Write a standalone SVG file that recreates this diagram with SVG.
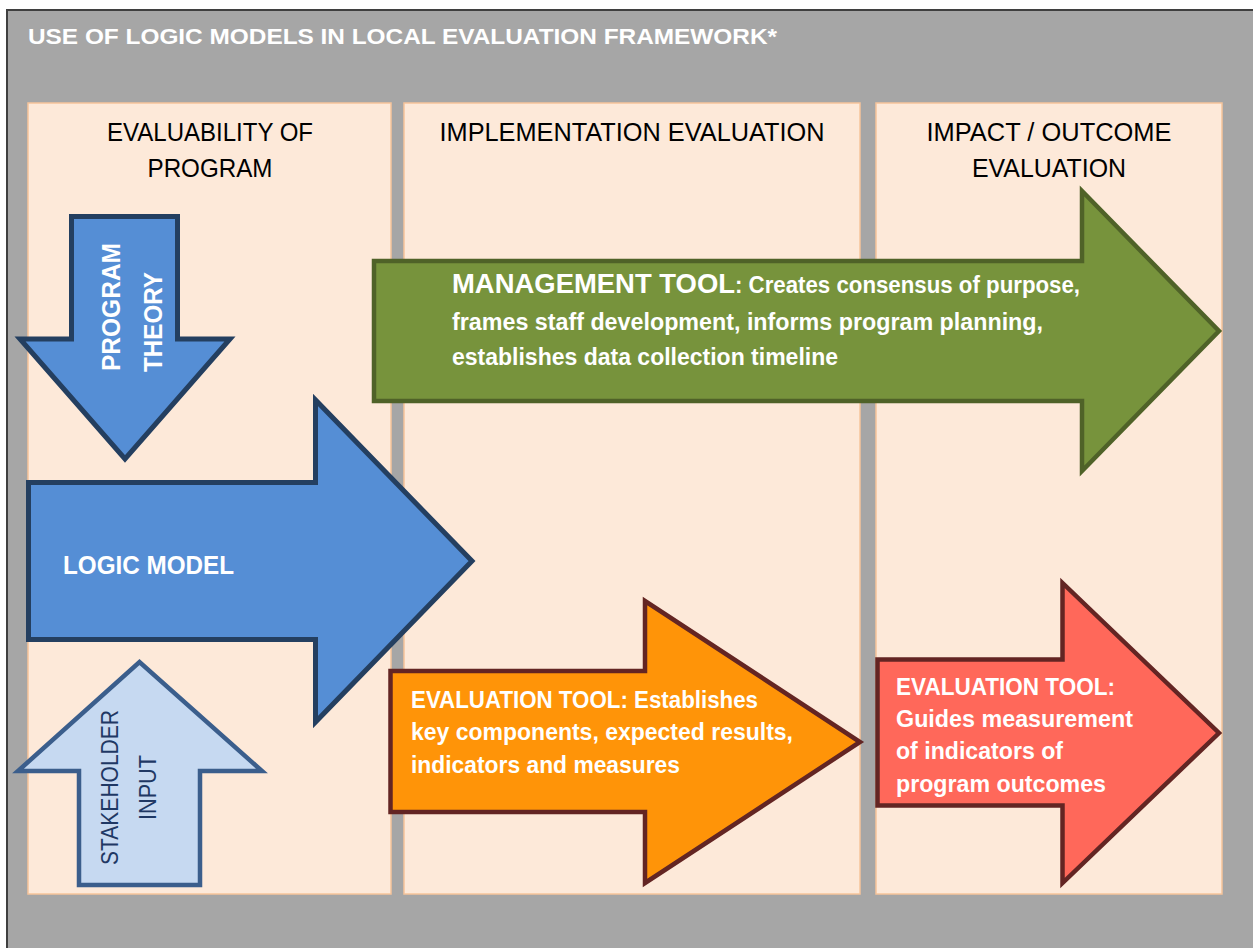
<svg xmlns="http://www.w3.org/2000/svg" width="1253" height="948" viewBox="0 0 1253 948">
  <style>
    .col { fill: #FDE9D9; stroke: #F6C49A; stroke-width: 1.5; }
    .head { font-family: "Liberation Sans", Arial, sans-serif; font-size: 25px; fill: #000000; text-anchor: middle; }
    .wb { font-family: "Liberation Sans", Arial, sans-serif; font-weight: bold; fill: #FFFFFF; }
    .blue { fill: #558ED5; stroke: #243F60; stroke-width: 5; stroke-linejoin: miter; }
    .pale { fill: #C6D9F1; stroke: #3B5E8C; stroke-width: 4.5; }
    .green { fill: #77933C; stroke: #4F6228; stroke-width: 4.5; }
    .orange { fill: #FF9408; stroke: #632523; stroke-width: 4.5; }
    .red { fill: #FF685A; stroke: #632523; stroke-width: 4.5; }
    .navy { font-family: "Liberation Sans", Arial, sans-serif; font-size: 23px; fill: #1F3864; text-anchor: middle; }
  </style>

  <!-- frame -->
  <rect x="7" y="10" width="1250" height="945" fill="#A6A6A6" stroke="#3F3F3F" stroke-width="2"/>
  <text class="wb" x="28" y="44" font-size="22" textLength="749" lengthAdjust="spacingAndGlyphs">USE OF LOGIC MODELS IN LOCAL EVALUATION FRAMEWORK*</text>

  <!-- phase columns -->
  <g id="col-evaluability">
    <rect class="col" x="28" y="103" width="363" height="791"/>
    <text class="head" x="210" y="141" textLength="206" lengthAdjust="spacingAndGlyphs">EVALUABILITY OF</text>
    <text class="head" x="210" y="177" textLength="125" lengthAdjust="spacingAndGlyphs">PROGRAM</text>
  </g>
  <g id="col-implementation">
    <rect class="col" x="404" y="103" width="456" height="791"/>
    <text class="head" x="632" y="141" textLength="385" lengthAdjust="spacingAndGlyphs">IMPLEMENTATION EVALUATION</text>
  </g>
  <g id="col-impact">
    <rect class="col" x="876" y="103" width="346" height="791"/>
    <text class="head" x="1049" y="141" textLength="245" lengthAdjust="spacingAndGlyphs">IMPACT / OUTCOME</text>
    <text class="head" x="1049" y="177" textLength="154" lengthAdjust="spacingAndGlyphs">EVALUATION</text>
  </g>

  <!-- program theory (down arrow) -->
  <g id="program-theory">
    <path class="blue" d="M71.5,216.5 H177.5 V339 H230 L125,459 L20,339 H71.5 Z"/>
    <text class="wb" font-size="26" transform="translate(120,371) rotate(-90)" textLength="128" lengthAdjust="spacingAndGlyphs">PROGRAM</text>
    <text class="wb" font-size="26" transform="translate(162,372) rotate(-90)" textLength="100" lengthAdjust="spacingAndGlyphs">THEORY</text>
  </g>

  <!-- logic model (right arrow) -->
  <g id="logic-model">
    <path class="blue" d="M28.5,482.5 H315.5 V400 L472,561 L315.5,722 V639.5 H28.5 Z"/>
    <text class="wb" font-size="26" x="63" y="574" textLength="171" lengthAdjust="spacingAndGlyphs">LOGIC MODEL</text>
  </g>

  <!-- stakeholder input (up arrow) -->
  <g id="stakeholder-input">
    <path class="pale" d="M79,885 V771 H18 L139.5,662 L262,771 H200 V885 Z"/>
    <text class="navy" transform="translate(118,787.5) rotate(-90)" textLength="155" lengthAdjust="spacingAndGlyphs">STAKEHOLDER</text>
    <text class="navy" transform="translate(156,787.5) rotate(-90)" textLength="65" lengthAdjust="spacingAndGlyphs">INPUT</text>
  </g>

  <!-- management tool (green arrow) -->
  <g id="management-tool">
    <path class="green" d="M374,261 H1082 V191 L1219,331 L1082,471 V401 H374 Z"/>
    <text class="wb" font-size="27" x="452" y="293" textLength="283" lengthAdjust="spacingAndGlyphs">MANAGEMENT TOOL</text>
    <text class="wb" font-size="23" x="735" y="293" textLength="345" lengthAdjust="spacingAndGlyphs">: Creates consensus of purpose,</text>
    <text class="wb" font-size="23" x="452" y="330" textLength="591" lengthAdjust="spacingAndGlyphs">frames staff development, informs program planning,</text>
    <text class="wb" font-size="23" x="452" y="365" textLength="386" lengthAdjust="spacingAndGlyphs">establishes data collection timeline</text>
  </g>

  <!-- evaluation tool, implementation (orange arrow) -->
  <g id="evaluation-tool-implementation">
    <path class="orange" d="M390.5,671 H645 V601 L860,742 L645,883 V812 H390.5 Z"/>
    <text class="wb" font-size="23" x="411" y="708" textLength="347" lengthAdjust="spacingAndGlyphs">EVALUATION TOOL: Establishes</text>
    <text class="wb" font-size="23" x="411" y="740" textLength="382" lengthAdjust="spacingAndGlyphs">key components, expected results,</text>
    <text class="wb" font-size="23" x="411" y="773" textLength="269" lengthAdjust="spacingAndGlyphs">indicators and measures</text>
  </g>

  <!-- evaluation tool, outcomes (red arrow) -->
  <g id="evaluation-tool-outcomes">
    <path class="red" d="M877.5,659.5 H1062.5 V583 L1219,733 L1062.5,883 V805.5 H877.5 Z"/>
    <text class="wb" font-size="23" x="896" y="695" textLength="219" lengthAdjust="spacingAndGlyphs">EVALUATION TOOL:</text>
    <text class="wb" font-size="23" x="896" y="727" textLength="237" lengthAdjust="spacingAndGlyphs">Guides measurement</text>
    <text class="wb" font-size="23" x="896" y="759" textLength="167" lengthAdjust="spacingAndGlyphs">of indicators of</text>
    <text class="wb" font-size="23" x="896" y="792" textLength="210" lengthAdjust="spacingAndGlyphs">program outcomes</text>
  </g>
</svg>
